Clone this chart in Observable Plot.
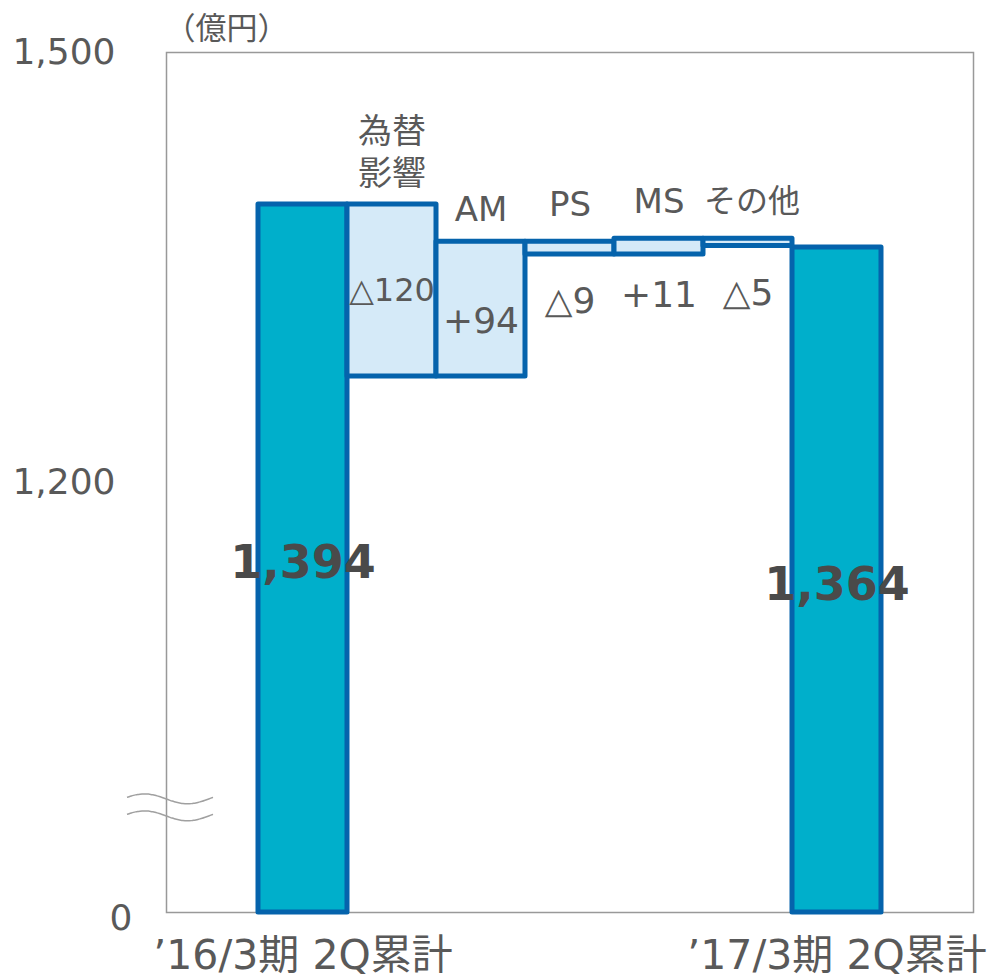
<!DOCTYPE html>
<html>
<head>
<meta charset="utf-8">
<script src="https://cdn.jsdelivr.net/npm/d3@7"></script>
<script src="https://cdn.jsdelivr.net/npm/@observablehq/plot@0.6"></script>
<style>
  html, body { margin: 0; padding: 0; background: #fff; }
  #chart svg { display: block; overflow: visible; }
</style>
</head>
<body>
<div id="chart"></div>
<script>
// ---- data ----
const startLabel = "’16/3期 2Q累計";
const endLabel = "’17/3期 2Q累計";
const startValue = 1394;
const endValue = 1364;
const stepNames = ["為替\n影響", "AM", "PS", "MS", "その他"];
const stepDeltas = [-120, 94, -9, 11, -5];
const yTicks = [1200, 1500];
const axisBase = 900;      // shown as "0" (broken axis)
const breakValue = 973;    // position of the ≈ break mark
const unitLabel = "（億円）";

// ---- build waterfall ----
const steps = [];
let run = startValue;
stepNames.forEach((name, i) => {
  const from = run, to = run + stepDeltas[i];
  steps.push({name, from, to, delta: stepDeltas[i], i});
  run = to;
});
const totals = [
  {name: startLabel, value: startValue},
  {name: endLabel, value: endValue}
];
const domainX = ["_l", startLabel, ...stepNames, endLabel, "_r"];

const font = "'DejaVu Sans','Noto Sans CJK JP',sans-serif";
const txt = "#595959";
const edge = "#0563ac";
const deltaDy = [0, 12, 53, 49, 51];
const deltaSize = [32, 36, 36, 36, 36];
const nameDy = [-19, -21, -26, -26, -27];
const nameSize = [34, 34, 34, 34, 32];
const nameDx = [0, 0, 0, 0, 4];
const fmtDelta = d => d < 0 ? "△" + (-d) : "+" + d;

function breakMark(index, scales, values, dims) {
  const y0 = scales.y(breakValue);
  const x0 = dims.marginLeft - 39, x1 = dims.marginLeft + 47;
  const g = d3.create("svg:g");
  [-8.5, 8.5].forEach(off => {
    const pts = d3.range(0, 41).map(k => {
      const t = k / 40;
      return [x0 + t * (x1 - x0), y0 + off - 5 * Math.sin(t * 2 * Math.PI + 0.3)];
    });
    g.append("path")
      .attr("d", d3.line().curve(d3.curveBasis)(pts))
      .attr("fill", "none").attr("stroke", "#a0a0a0").attr("stroke-width", 1.5);
  });
  return g.node();
}

// per-datum style tweaks (size / offsets) applied after Plot renders the texts
const styleTexts = (sizes, dxs, dys) => (index, scales, values, dims, ctx, next) => {
  const g = next(index, scales, values, dims, ctx);
  d3.select(g).selectAll("text").each(function(_, k) {
    const i = index[k];
    const sel = d3.select(this).attr("font-size", sizes[i]);
    const t = sel.attr("transform") || "";
    sel.attr("transform", t + ` translate(${dxs ? dxs[i] : 0},${dys[i]})`);
  });
  return g;
};

const chart = Plot.plot({
  width: 1007,
  height: 977,
  marginLeft: 166,
  marginRight: 34,
  marginTop: 52,
  marginBottom: 65,
  style: {fontFamily: font, color: txt, background: "#fff"},
  x: {type: "band", domain: domainX, padding: 0, axis: null},
  y: {domain: [axisBase, 1500], axis: null},
  marks: [
    Plot.frame({stroke: "#999", strokeWidth: 1.5}),
    breakMark,
    Plot.axisY({ticks: yTicks, tickFormat: d3.format(","), tickSize: 0, tickPadding: 51,
      fontSize: 36, fill: txt}),
    Plot.axisY({ticks: [axisBase], tickFormat: () => "0", tickSize: 0, tickPadding: 34,
      fontSize: 36, fill: txt, dy: 6}),
    Plot.barY(totals, {x: "name", y1: axisBase, y2: "value", fill: "#00afcb",
      stroke: edge, strokeWidth: 5, strokeLinejoin: "round"}),
    Plot.barY(steps, {x: "name", y1: "from", y2: "to", fill: "#d5eaf8",
      stroke: edge, strokeWidth: 5, strokeLinejoin: "round"}),
    Plot.text(totals, {x: "name", y: d => (axisBase + d.value) / 2, text: d => d3.format(",")(d.value),
      fontSize: 46, fontWeight: "bold", fill: "#4a4a4a", dy: 5}),
    Plot.text(steps, {x: "name", y: d => (d.from + d.to) / 2, text: d => fmtDelta(d.delta),
      fontSize: 36, fill: txt, render: styleTexts(deltaSize, null, deltaDy)}),
    Plot.text(steps, {x: "name", y: d => Math.max(d.from, d.to), text: "name",
      fontSize: 34, lineAnchor: "bottom", lineHeight: 1.24, fill: txt,
      render: styleTexts(nameSize, nameDx, nameDy)}),
    Plot.text([startLabel, endLabel], {x: d => d, frameAnchor: "bottom", text: d => d,
      fontSize: 41, dy: 43, lineAnchor: "middle", fill: txt}),
    Plot.text([unitLabel], {frameAnchor: "top-left", text: d => d, fontSize: 31,
      dx: 60, dy: -23, lineAnchor: "middle", textAnchor: "middle", fill: txt})
  ]
});
document.getElementById("chart").appendChild(chart);
</script>
</body>
</html>
